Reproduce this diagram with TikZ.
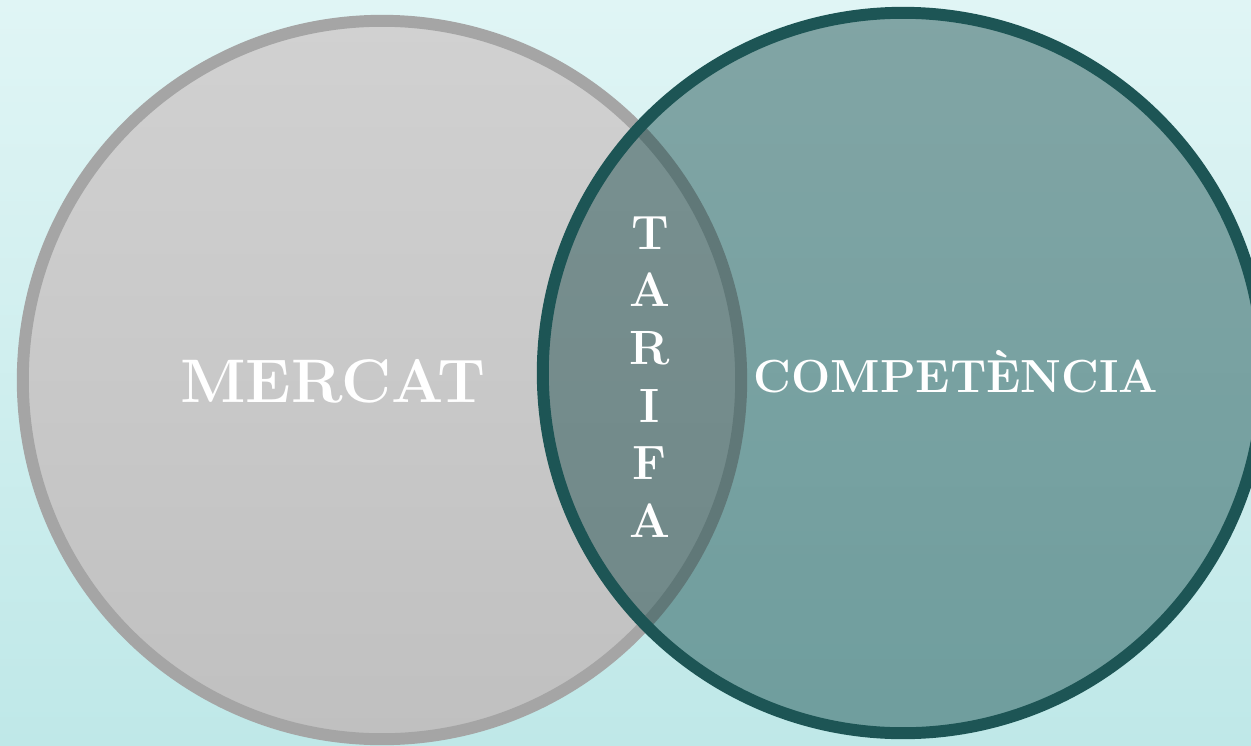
\documentclass[tikz,border=0pt]{standalone}
\usepackage{fontspec}
\definecolor{bgtop}{HTML}{E0F5F5}
\definecolor{bgbot}{HTML}{BFE8E8}
\definecolor{mercattop}{HTML}{D1D1D1}
\definecolor{mercatbot}{HTML}{C0C0C0}
\definecolor{mercatedge}{HTML}{A5A5A5}
\definecolor{compfill}{HTML}{0A4040}
\definecolor{compedge}{HTML}{1D5555}
\begin{document}
\begin{tikzpicture}[x=0.01cm, y=-0.01cm,
  ring/.style={circle, inner sep=0pt, line width=3.4pt},
  venntext/.style={text=white, inner sep=0pt}]
\shade[top color=bgtop, bottom color=bgbot](0,0) rectangle (1251,745);
\useasboundingbox (0,0) rectangle (1251,745);
\node[ring, draw=mercatedge, top color=mercattop, bottom color=mercatbot, minimum size=7.18cm](mercat) at (382,380){};
\node[ring, draw=compedge, fill=compfill, fill opacity=0.44, minimum size=7.2cm](competencia) at (903,373){};
\node[venntext, anchor=base, font=\fontsize{17.5}{21}\selectfont\bfseries](mercatlbl) at (333,402){MERCAT};
\node[venntext, anchor=base, font=\fontsize{13.2}{16}\selectfont\bfseries](competencialbl) at (956,392){COMPETÈNCIA};
\node[venntext, align=center, font=\fontsize{13.7}{16.4}\selectfont\bfseries](tarifa) at (650,377){T\\A\\R\\I\\F\\A};
\end{tikzpicture}
\end{document}
